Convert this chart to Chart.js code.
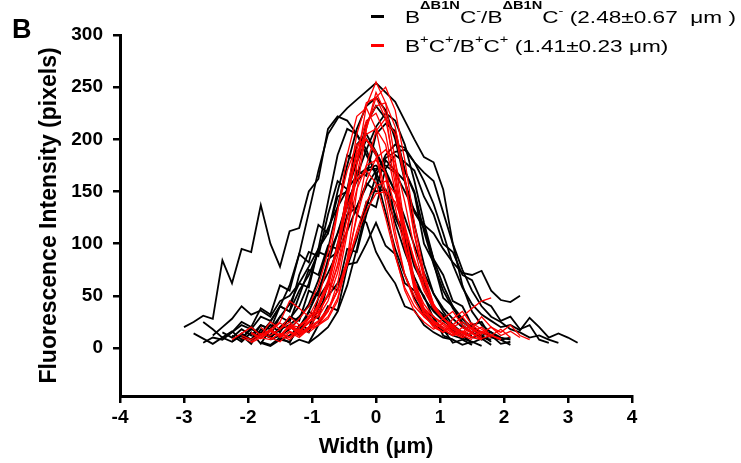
<!DOCTYPE html>
<html>
<head>
<meta charset="utf-8">
<script src="https://cdn.jsdelivr.net/npm/chart.js@4.4.1/dist/chart.umd.min.js"></script>
<style>
  body { margin: 0; background: #fff; }
  #wrap { position: relative; width: 741px; height: 463px; }
  #panel { position: absolute; left: 12px; top: 16px; font: bold 27px "Liberation Sans", Arial, sans-serif; line-height: 26px; }
  #legend { position: absolute; left: 371px; top: 8px; font: 17px "Liberation Sans", Arial, sans-serif; color: #000; }
  .row { position: relative; height: 29px; line-height: 20px; white-space: nowrap; }
  .swatch { position: absolute; left: 0; top: 7px; width: 13px; height: 3px; }
  .txt { position: absolute; left: 34px; top: 0; transform: scaleX(1.33); transform-origin: 0 50%; }
  .sup { position: relative; font-size: 11px; line-height: 0; }
  .hi { top: -14px; font-weight: bold; }
  .lo { top: -9px; }
</style>
</head>
<body>
<div id="wrap">
  <canvas id="chart" width="741" height="463"></canvas>
  <div id="panel">B</div>
  <div id="legend">
    <div class="row"><span class="swatch" style="background:#000"></span><span class="txt">B<span class="sup hi">ΔB1N</span>C<span class="sup lo">-</span>/B<span class="sup hi">ΔB1N</span>C<span class="sup lo">-</span> (2.48±0.67 &nbsp;μm )</span></div>
    <div class="row"><span class="swatch" style="background:#f00"></span><span class="txt">B<span class="sup lo">+</span>C<span class="sup lo">+</span>/B<span class="sup lo">+</span>C<span class="sup lo">+</span> (1.41±0.23 μm)</span></div>
  </div>
</div>
<script>
// sampling grids (um)
const blackX = [-3, -2.85, -2.7, -2.55, -2.4, -2.25, -2.1, -1.95, -1.8, -1.65, -1.5, -1.35, -1.2, -1.05, -0.9, -0.75, -0.6, -0.45, -0.3, -0.15,
  0, 0.15, 0.3, 0.45, 0.6, 0.75, 0.9, 1.05, 1.2, 1.35, 1.5, 1.65, 1.8, 1.95, 2.1, 2.25, 2.4, 2.55, 2.7, 2.85, 3, 3.15, 3.3];
const redX = [-2.25, -2.1, -1.95, -1.8, -1.65, -1.5, -1.35, -1.2, -1.05, -0.9, -0.75, -0.6, -0.45, -0.3, -0.15,
  0, 0.15, 0.3, 0.45, 0.6, 0.75, 0.9, 1.05, 1.2, 1.35, 1.5, 1.65, 1.8, 1.95, 2.1, 2.25, 2.4];

const xTicks = [-4, -3, -2, -1, 0, 1, 2, 3, 4];
const yTicks = [0, 50, 100, 150, 200, 250, 300];

// B(dB1N)C-/B(dB1N)C- profiles, values start at blackX[blackStart[i]]
const black01 = [20, 25, 31, 28, 84, 62, 95, 92, 137, 100, 78, 112, 115, 150, 162, 210, 222, 218, 205, 185, 168, 148, 120, 92, 68, 48, 35, 26, 20, 15, 12];
const black02 = [10, 18, 14, 25, 40, 60, 90, 130, 170, 205, 220, 230, 238, 246, 254, 245, 236, 218, 200, 183, 178, 152, 100, 60, 35, 22, 15, 10, 8];
const black03 = [8, 12, 20, 35, 55, 82, 110, 140, 160, 170, 172, 175, 168, 150, 132, 118, 110, 95, 82, 72, 70, 74, 55, 46, 44, 50];
const black04 = [5, 12, 20, 35, 60, 95, 135, 165, 185, 195, 192, 178, 160, 138, 110, 80, 58, 42, 32, 26, 20, 22, 17, 29, 20, 10, 14, 10, 5];
const black05 = [15, 10, 18, 12, 22, 18, 30, 42, 62, 58, 95, 110, 150, 185, 178, 215, 232, 220, 205, 170, 150, 112, 80, 55, 38, 25, 18, 12, 15, 8, 10];
const black06 = [14, 9, 4, 10, 6, 14, 8, 22, 18, 40, 35, 70, 92, 88, 128, 160, 152, 195, 205, 188, 170, 150, 110, 82, 64, 40, 32, 18, 12, 5];
const black07 = [5, 2, 8, 6, 20, 15, 38, 50, 62, 80, 82, 100, 120, 98, 90, 62, 55, 35, 30, 12, 8, 3, 6, 2];
const black08 = [12, 20, 28, 40, 32, 36, 30, 45, 50, 62, 78, 95, 115, 135, 152, 165, 172, 175, 168, 150, 125, 98, 72, 52, 38, 28, 20, 15, 10, 8];
const black09 = [6, 3, 10, 5, 22, 18, 48, 62, 100, 125, 170, 165, 205, 215, 208, 170, 148, 100, 82, 48, 40, 22, 15, 8, 12, 4, 6];
const black10 = [8, 12, 18, 28, 42, 65, 95, 135, 175, 210, 232, 240, 228, 200, 160, 118, 80, 52, 35, 22, 15, 10, 12, 6];
const black11 = [12, 8, 15, 10, 18, 22, 30, 40, 55, 72, 92, 112, 135, 155, 170, 182, 188, 190, 178, 168, 160, 130, 100, 75, 55, 40, 30, 25, 18, 15, 10, 12, 8, 5];
const black12 = [10, 15, 25, 20, 38, 32, 60, 55, 90, 82, 118, 110, 145, 150, 128, 120, 92, 75, 62, 40, 36, 22, 15, 10, 8];
const black13 = [3, 8, 5, 22, 40, 36, 78, 105, 140, 135, 172, 185, 178, 170, 145, 128, 100, 92, 70, 65, 45, 40, 26, 30, 18, 22, 8, 5];
const black14 = [6, 12, 4, 18, 12, 30, 25, 50, 75, 70, 98, 95, 150, 178, 200, 185, 170, 125, 105, 62, 50, 28, 18, 5, 8, 3];
const black15 = [25, 18, 10, 16, 8, 20, 12, 22, 15, 30, 26, 55, 50, 85, 92, 128, 135, 158, 150, 152, 128, 110, 78, 60, 36, 30, 16, 12, 5, 9, 3];
const black16 = [5, 10, 8, 15, 22, 18, 30, 26, 40, 35, 55, 70, 92, 88, 110, 135, 165, 190, 212, 225, 218, 195, 160, 120, 85, 60, 40, 28, 20, 15, 12, 9];
const black17 = [12, 6, 15, 4, 18, 10, 22, 12, 35, 28, 62, 55, 95, 92, 128, 155, 180, 170, 160, 130, 115, 85, 70, 45, 40, 22, 25, 10, 8, 3];
const black18 = [8, 14, 10, 20, 28, 40, 62, 95, 140, 185, 210, 205, 190, 165, 130, 95, 70, 48, 32, 22, 16, 12, 9, 6];
const blackStart = [0, 6, 10, 13, 4, 1, 8, 3, 8, 9, 6, 4, 11, 5, 2, 2, 5, 7];

// B+C+/B+C+ profiles, values start at redX[redStart[i]]
const red01 = [12, 8, 14, 10, 6, 15, 12, 18, 22, 35, 62, 110, 178, 232, 255, 235, 180, 115, 65, 38, 24, 18, 12, 20, 14, 9, 12, 8];
const red02 = [10, 16, 12, 20, 15, 25, 30, 45, 72, 115, 165, 210, 240, 250, 228, 180, 120, 72, 42, 28, 22, 30, 18, 14, 20, 12, 16, 10];
const red03 = [8, 14, 20, 12, 25, 18, 30, 22, 28, 40, 58, 95, 150, 205, 235, 240, 220, 170, 110, 62, 35, 25, 18, 12, 16, 10, 8];
const red04 = [18, 10, 22, 20, 30, 48, 80, 130, 185, 222, 230, 210, 165, 112, 70, 45, 30, 22, 15, 28, 35, 22, 15, 10];
const red05 = [5, 10, 8, 14, 10, 18, 15, 22, 30, 48, 80, 128, 175, 208, 220, 205, 160, 108, 65, 40, 28, 20, 25, 18, 30, 20, 15, 22, 12, 8];
const red06 = [12, 8, 16, 24, 38, 60, 98, 145, 185, 205, 210, 195, 150, 100, 60, 38, 26, 20, 14, 10, 15, 8];
const red07 = [20, 12, 18, 25, 15, 28, 40, 62, 100, 150, 188, 200, 185, 140, 90, 55, 35, 25, 18, 24, 16, 12, 18, 10];
const red08 = [15, 10, 18, 25, 35, 55, 85, 125, 160, 182, 190, 178, 140, 95, 60, 38, 28, 35, 22, 15, 20, 12, 18, 10];
const red09 = [10, 6, 12, 18, 25, 45, 38, 30, 35, 50, 78, 115, 152, 175, 180, 168, 135, 95, 62, 42, 30, 22, 15, 10, 14, 8];
const red10 = [8, 14, 10, 20, 28, 42, 65, 98, 135, 162, 170, 158, 125, 88, 58, 40, 30, 22, 28, 18, 12, 8];
const red11 = [10, 16, 12, 20, 26, 38, 55, 80, 112, 140, 155, 160, 148, 118, 82, 55, 38, 28, 22, 30, 38, 45, 48];
const red12 = [14, 9, 16, 12, 20, 14, 18, 22, 28, 45, 85, 150, 210, 245, 225, 165, 100, 55, 32, 20, 15, 22, 14, 10, 16, 12, 8];
const red13 = [12, 18, 25, 36, 55, 80, 108, 132, 148, 150, 140, 115, 85, 58, 40, 28, 20, 15, 10];
const red14 = [15, 10, 18, 12, 22, 16, 25, 34, 50, 80, 125, 175, 215, 232, 235, 212, 165, 110, 68, 42, 28, 20, 15, 24, 18, 12, 9];
const red15 = [22, 14, 20, 32, 52, 88, 140, 190, 218, 225, 205, 158, 100, 58, 34, 24, 18, 12, 16, 10];
const red16 = [16, 24, 18, 28, 40, 60, 92, 132, 170, 195, 200, 188, 150, 105, 70, 50, 38, 30, 24, 18, 14, 20, 12];
const redStart = [1, 3, 0, 4, 2, 5, 3, 6, 1, 4, 5, 2, 7, 2, 6, 4];

const blackSeries = [black01, black02, black03, black04, black05, black06, black07, black08, black09,
  black10, black11, black12, black13, black14, black15, black16, black17, black18];
const redSeries = [red01, red02, red03, red04, red05, red06, red07, red08, red09, red10, red11, red12, red13, red14, red15, red16];

const FONT = '"Liberation Sans", Arial, sans-serif';

function toPoints(grid, start, ys) {
  return ys.map((y, i) => ({ x: grid[start + i], y: y }));
}

const datasets = [];
// dataset 0 is painted last, so the red ones go first to sit on top
redSeries.forEach((ys, i) => {
  datasets.push({ data: toPoints(redX, redStart[i], ys), borderColor: '#ff0000', borderWidth: 1.3 });
});
blackSeries.forEach((ys, i) => {
  datasets.push({ data: toPoints(blackX, blackStart[i], ys), borderColor: '#000000', borderWidth: 1.8 });
});

const ctx = document.getElementById('chart');

new Chart(ctx, {
  type: 'line',
  data: { datasets: datasets },
  options: {
    responsive: false,
    animation: false,
    devicePixelRatio: 1,
    layout: { padding: { left: 0, top: 35, right: 109, bottom: 0 } },
    elements: { point: { radius: 0 }, line: { tension: 0 } },
    plugins: { legend: { display: false }, tooltip: { enabled: false } },
    scales: {
      x: {
        type: 'linear',
        min: -4,
        max: 4,
        afterBuildTicks: (s) => { s.ticks = xTicks.map((v) => ({ value: v })); },
        afterFit: (s) => { s.height = 67; },
        grid: { drawOnChartArea: false, drawTicks: true, tickLength: 7, color: '#000', lineWidth: 2.5 },
        border: { display: true, color: '#000', width: 3 },
        ticks: { color: '#000', padding: 3, maxRotation: 0, font: { family: FONT, size: 19, weight: 'bold' } },
        title: { display: true, text: 'Width (μm)', color: '#000', padding: { top: 0, bottom: 3 }, font: { family: FONT, size: 22, weight: 'bold' } }
      },
      y: {
        min: -46,
        max: 300,
        afterBuildTicks: (s) => { s.ticks = yTicks.map((v) => ({ value: v })); },
        afterFit: (s) => { s.width = 120; },
        grid: { drawOnChartArea: false, drawTicks: true, tickLength: 7, color: '#000', lineWidth: 2.5 },
        border: { display: true, color: '#000', width: 3 },
        ticks: { color: '#000', padding: 10, font: { family: FONT, size: 19, weight: 'bold' } },
        title: { display: true, text: 'Fluorescence Intensity (pixels)', color: '#000', padding: { top: 36, bottom: 0 }, font: { family: FONT, size: 23, weight: 'bold' } }
      }
    }
  }
});
</script>
</body>
</html>
